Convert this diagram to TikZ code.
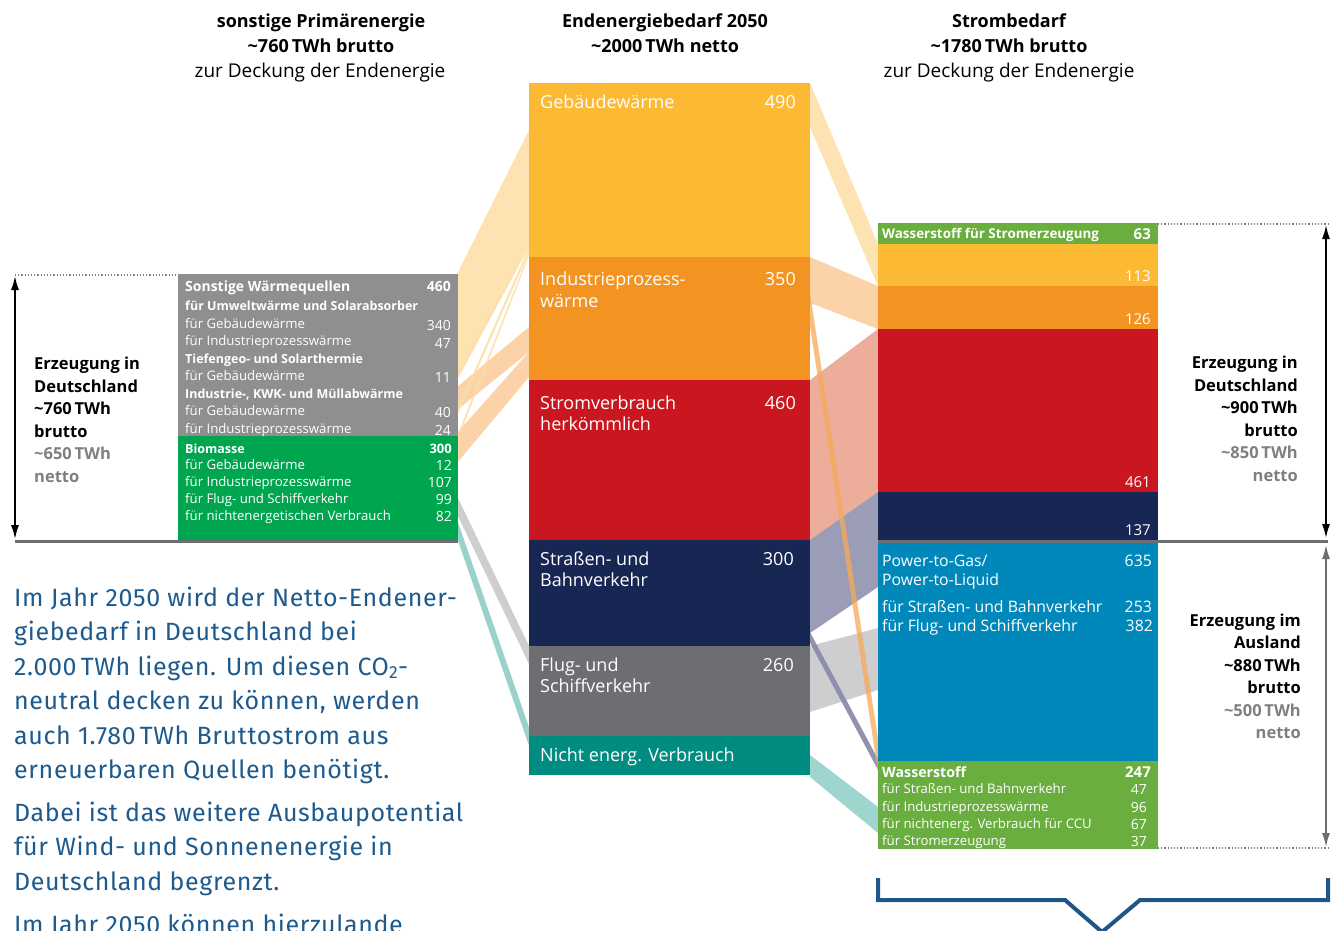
\documentclass[tikz,border=0pt]{standalone}
\usepackage{fontspec}
\setmainfont{Open Sans}
\newfontfamily\parafont[LetterSpace=2.5]{Fira Sans}
\usetikzlibrary{arrows.meta}
\usetikzlibrary{positioning}

\definecolor{gebaeude}{HTML}{FCBA34}
\definecolor{industrie}{HTML}{F39322}
\definecolor{strom}{HTML}{CA161E}
\definecolor{strasse}{HTML}{182654}
\definecolor{flug}{HTML}{6D6E71}
\definecolor{nichtenerg}{HTML}{008C81}
\definecolor{sonstige}{HTML}{8D8F91}
\definecolor{biomasse}{HTML}{00A54F}
\definecolor{wasserstoff}{HTML}{69AE3E}
\definecolor{ptg}{HTML}{0088BA}
\definecolor{fliess}{HTML}{1D5A8E}
\definecolor{klammer}{HTML}{1F568A}
\definecolor{nettograu}{HTML}{7F7F7F}
\definecolor{linie}{HTML}{6D6E71}
\definecolor{fgeb}{HTML}{FDDEA5}
\definecolor{find}{HTML}{FBCB99}
\definecolor{findline}{HTML}{F6A958}
\definecolor{fstrom}{HTML}{E9A089}
\definecolor{fstr}{HTML}{8A8CAA}
\definecolor{fflug}{HTML}{C5C6C8}
\definecolor{fnicht}{HTML}{8ECCC7}

\tikzset{
  head/.style={inner sep=0pt, anchor=base, font=\fontsize{18}{22}\selectfont\bfseries},
  subhead/.style={inner sep=0pt, anchor=base, font=\fontsize{19}{22}\selectfont},
  catlbl/.style={inner sep=0pt, anchor=base west, text=white, font=\fontsize{18}{21}\selectfont},
  catnum/.style={inner sep=0pt, anchor=base east, text=white, font=\fontsize{18}{21}\selectfont},
  srclbl/.style={inner sep=0pt, anchor=base west, text=white, font=\fontsize{13.2}{16}\selectfont},
  srcbold/.style={inner sep=0pt, anchor=base west, text=white, font=\fontsize{12.5}{16}\selectfont\bfseries},
  srcnum/.style={inner sep=0pt, anchor=base east, text=white, font=\fontsize{14}{16}\selectfont},
  sidelbl/.style={inner sep=0pt, font=\fontsize{16.5}{22}\selectfont\bfseries},
  flow/.style={fill opacity=0.85},
  thinflow/.style={line width=6pt, draw opacity=0.8},
  parline/.style={inner sep=0pt, anchor=base west, text=fliess, font=\parafont\fontsize{25}{30}\selectfont},
  dimarrow/.style={line width=2.5pt, {Latex[length=15pt,width=8pt]}-{Latex[length=15pt,width=8pt]}},
}

\begin{document}
\begin{tikzpicture}[x=1pt, y=-1pt]
\useasboundingbox (0,0) rectangle (1335,931);
\clip (0,0) rectangle (1335,931);

% Kopfzeilen
\node[head] (hsonst) at (321,28) {sonstige Primärenergie};
\node[head] (hsonstb) at (321,53) {\textasciitilde760\,TWh brutto};
\node[subhead] (hsonstc) at (320,78) {zur Deckung der Endenergie};
\node[head] (hend) at (665,28) {Endenergiebedarf 2050};
\node[head] (hendb) at (665,53) {\textasciitilde2000\,TWh netto};
\node[head] (hstrom) at (1009,28) {Strombedarf};
\node[head] (hstromb) at (1009,53) {\textasciitilde1780\,TWh brutto};
\node[subhead] (hstromc) at (1009,78) {zur Deckung der Endenergie};

% Fluesse links
\fill[fgeb, flow] (457,274) -- (529,130) -- (529,243) -- (457,380) -- cycle;
\fill[find, flow] (457,387) -- (529,327) -- (529,352) -- (457,410) -- cycle;
\fill[find, flow] (457,433) -- (529,352) -- (529,377) -- (457,463) -- cycle;
\fill[fgeb, flow] (457,375) -- (529,243) -- (529,247) -- (457,380) -- cycle;
\fill[fgeb, flow] (457,410) -- (529,247) -- (529,252) -- (457,416) -- cycle;
\fill[fgeb, flow] (457,437) -- (529,252) -- (529,256) -- (457,442) -- cycle;
\fill[fflug, flow] (457,496) -- (529,646) -- (529,664) -- (457,514) -- cycle;
\draw[fnicht, thinflow, draw opacity=0.9] (454,520) -- (533,748);

% Fluesse rechts
\fill[fgeb, flow] (810,83) -- (878,244) -- (878,286) -- (810,127) -- cycle;
\fill[find, flow] (810,257) -- (878,286) -- (878,329) -- (810,303) -- cycle;
\fill[fstrom, flow] (810,380) -- (878,329) -- (878,492) -- (810,540) -- cycle;
\fill[fstr, flow] (810,540) -- (878,492) -- (878,587) -- (810,633) -- cycle;
\fill[fflug, flow] (810,646) -- (878,628) -- (878,690) -- (810,712) -- cycle;
\fill[fnicht, flow] (810,755) -- (878,807) -- (878,833) -- (810,777) -- cycle;
\draw[fstr, thinflow, line width=5pt, draw opacity=0.95] (806,630) -- (882,772);
\draw[findline, thinflow, line width=5pt, draw opacity=0.75] (807,290) -- (881,775);

% Endenergie
\fill[gebaeude] (529,83) rectangle (810,257);
\fill[industrie] (529,257) rectangle (810,380);
\fill[strom] (529,380) rectangle (810,540);
\fill[strasse] (529,540) rectangle (810,646);
\fill[flug] (529,646) rectangle (810,736);
\fill[nichtenerg] (529,736) rectangle (810,775);

\node[catlbl] (geb) at (540,109) {Gebäudewärme};
\node[catnum] at (796,109) {490};
\node[catlbl] (ind) at (540,285) {Industrieprozess-};
\node[catlbl] at (540,307) {wärme};
\node[catnum] at (796,285) {350};
\node[catlbl] (str) at (540,409) {Stromverbrauch};
\node[catlbl] at (540,430) {herkömmlich};
\node[catnum] at (796,409) {460};
\node[catlbl] (verk) at (540,565) {Straßen- und};
\node[catlbl] at (540,586) {Bahnverkehr};
\node[catnum] at (794,565) {300};
\node[catlbl] (flg) at (540,671) {Flug- und};
\node[catlbl] at (540,692) {Schiffverkehr};
\node[catnum] at (794,671) {260};
\node[catlbl] (nicht) at (540,761) {Nicht energ. Verbrauch};

% sonstige Primaerenergie
\fill[sonstige] (178,274) rectangle (458,436);
\fill[biomasse] (178,436) rectangle (458,540);
\draw[linie, line width=3pt] (15,541.5) -- (458,541.5);
\draw[nettograu, dotted, line width=1.2pt] (15,275) -- (178,275);

\node[srcbold, font=\fontsize{14}{16}\selectfont\bfseries] (wq) at (185,291) {Sonstige Wärmequellen};
\node[srcnum, font=\fontsize{14}{16}\selectfont\bfseries] at (451,291) {460};
\node[srcbold] at (185,310) {für Umweltwärme und Solarabsorber};
\node[srclbl] at (185,328) {für Gebäudewärme};
\node[srcnum] at (451,330) {340};
\node[srclbl] at (185,345) {für Industrieprozesswärme};
\node[srcnum] at (451,348) {47};
\node[srcbold] at (185,363) {Tiefengeo- und Solarthermie};
\node[srclbl] at (185,380) {für Gebäudewärme};
\node[srcnum] at (451,382) {11};
\node[srcbold] at (185,398) {Industrie-, KWK- und Müllabwärme};
\node[srclbl] at (185,415) {für Gebäudewärme};
\node[srcnum] at (451,417) {40};
\node[srclbl] at (185,433) {für Industrieprozesswärme};
\node[srcnum] at (451,435) {24};

\node[srcbold] (bio) at (185,453) {Biomasse};
\node[srcnum, font=\fontsize{13}{16}\selectfont\bfseries] at (452,453) {300};
\node[srclbl] at (185,469) {für Gebäudewärme};
\node[srcnum] at (452,470) {12};
\node[srclbl] at (185,486) {für Industrieprozesswärme};
\node[srcnum] at (452,487) {107};
\node[srclbl] at (185,503) {für Flug- und Schiffverkehr};
\node[srcnum] at (452,504) {99};
\node[srclbl] at (185,520) {für nichtenergetischen Verbrauch};
\node[srcnum] at (452,521) {82};

\coordinate (ltop) at (15,275);
\coordinate (lbot) at (15,540);
\draw[dimarrow] (ltop) -- (lbot);
\foreach \t [count=\i] in {Erzeugung in, Deutschland, \textasciitilde760\,TWh, brutto}
  \node[sidelbl, anchor=base west] at (34,347.5+22.4*\i) {\t};
\node[sidelbl, anchor=base west, text=nettograu] at (34,459) {\textasciitilde650\,TWh};
\node[sidelbl, anchor=base west, text=nettograu] at (34,482) {netto};

% Strombedarf
\fill[wasserstoff] (878,223) rectangle (1158,244);
\fill[gebaeude] (878,244) rectangle (1158,286);
\fill[industrie] (878,286) rectangle (1158,329);
\fill[strom] (878,329) rectangle (1158,492);
\fill[strasse] (878,492) rectangle (1158,540);
\fill[ptg] (878,543) rectangle (1158,761);
\fill[wasserstoff] (878,761) rectangle (1158,849);
\draw[linie, line width=3pt] (878,541.5) -- (1328,541.5);
\draw[nettograu, dotted, line width=1.2pt] (1158,224) -- (1328,224);
\draw[nettograu, dotted, line width=1.2pt] (1158,848) -- (1328,848);

\node[srcbold, font=\fontsize{13.4}{16}\selectfont\bfseries] (h2s) at (882,238) {Wasserstoff für Stromerzeugung};
\node[srcnum, font=\fontsize{15}{16}\selectfont\bfseries] at (1151,239) {63};
\node[srcnum, font=\fontsize{15}{16}\selectfont] at (1151,281) {113};
\node[srcnum, font=\fontsize{15}{16}\selectfont] at (1151,324) {126};
\node[srcnum, font=\fontsize{15}{16}\selectfont] at (1151,487) {461};
\node[srcnum, font=\fontsize{15}{16}\selectfont] at (1151,535) {137};

\node[srclbl, font=\fontsize{15.8}{16}\selectfont] (ptgl) at (882,566) {Power-to-Gas/};
\node[srclbl, font=\fontsize{15.8}{16}\selectfont] at (882,585) {Power-to-Liquid};
\node[srcnum, font=\fontsize{15.8}{16}\selectfont] at (1152,566) {635};
\node[srclbl, font=\fontsize{15.8}{16}\selectfont] at (882,612) {für Straßen- und Bahnverkehr};
\node[srcnum, font=\fontsize{15.8}{16}\selectfont] at (1152,612) {253};
\node[srclbl, font=\fontsize{15.8}{16}\selectfont] at (882,631) {für Flug- und Schiffverkehr};
\node[srcnum, font=\fontsize{15.8}{16}\selectfont] at (1153,631) {382};

\node[srcbold, font=\fontsize{14.2}{16}\selectfont\bfseries] (h2) at (882,777) {Wasserstoff};
\node[srcnum, font=\fontsize{15}{16}\selectfont\bfseries] at (1151,777) {247};
\node[srclbl] at (882,793) {für Straßen- und Bahnverkehr};
\node[srcnum] at (1147,794) {47};
\node[srclbl] at (882,811) {für Industrieprozesswärme};
\node[srcnum] at (1147,812) {96};
\node[srclbl] at (882,828) {für nichtenerg. Verbrauch für CCU};
\node[srcnum] at (1147,829) {67};
\node[srclbl] at (882,845) {für Stromerzeugung};
\node[srcnum] at (1147,846) {37};

\coordinate (rtop) at (1326,224);
\coordinate (rmid) at (1326,539);
\coordinate (rmidb) at (1326,544);
\coordinate (rbot) at (1326,848);
\draw[dimarrow] (rtop) -- (rmid);
\draw[dimarrow, linie] (rmidb) -- (rbot);
\foreach \t [count=\i] in {Erzeugung in, Deutschland, \textasciitilde900\,TWh, brutto}
  \node[sidelbl, anchor=base east] at (1298,346.5+22.4*\i) {\t};
\node[sidelbl, anchor=base east, text=nettograu] at (1298,458) {\textasciitilde850\,TWh};
\node[sidelbl, anchor=base east, text=nettograu] at (1298,481) {netto};
\foreach \t [count=\i] in {Erzeugung im, Ausland, \textasciitilde880\,TWh, brutto}
  \node[sidelbl, anchor=base east] at (1301,604.5+22.2*\i) {\t};
\node[sidelbl, anchor=base east, text=nettograu] at (1301,716) {\textasciitilde500\,TWh};
\node[sidelbl, anchor=base east, text=nettograu] at (1301,738) {netto};

\draw[klammer, line width=4pt, line join=miter] (878,878) -- (878,900) -- (1065,900) -- (1102,932) -- (1140,900) -- (1328,900) -- (1328,878);

% Text
\node[parline] (p1) at (14,606) {Im Jahr 2050 wird der Netto-Endener-};
\node[parline] at (14,640.5) {giebedarf in Deutschland bei};
\node[parline] at (14,675) {2.000\,TWh liegen. Um diesen CO\textsubscript{2}-};
\node[parline] at (14,709.5) {neutral decken zu können, werden};
\node[parline] at (14,744) {auch 1.780\,TWh Bruttostrom aus};
\node[parline] at (14,778.5) {erneuerbaren Quellen benötigt.};
\node[parline] (p2) at (14,821) {Dabei ist das weitere Ausbaupotential};
\node[parline] at (14,855.5) {für Wind- und Sonnenenergie in};
\node[parline] at (14,890) {Deutschland begrenzt.};
\node[parline] (p3) at (14,933) {Im Jahr 2050 können hierzulande};
\end{tikzpicture}
\end{document}
